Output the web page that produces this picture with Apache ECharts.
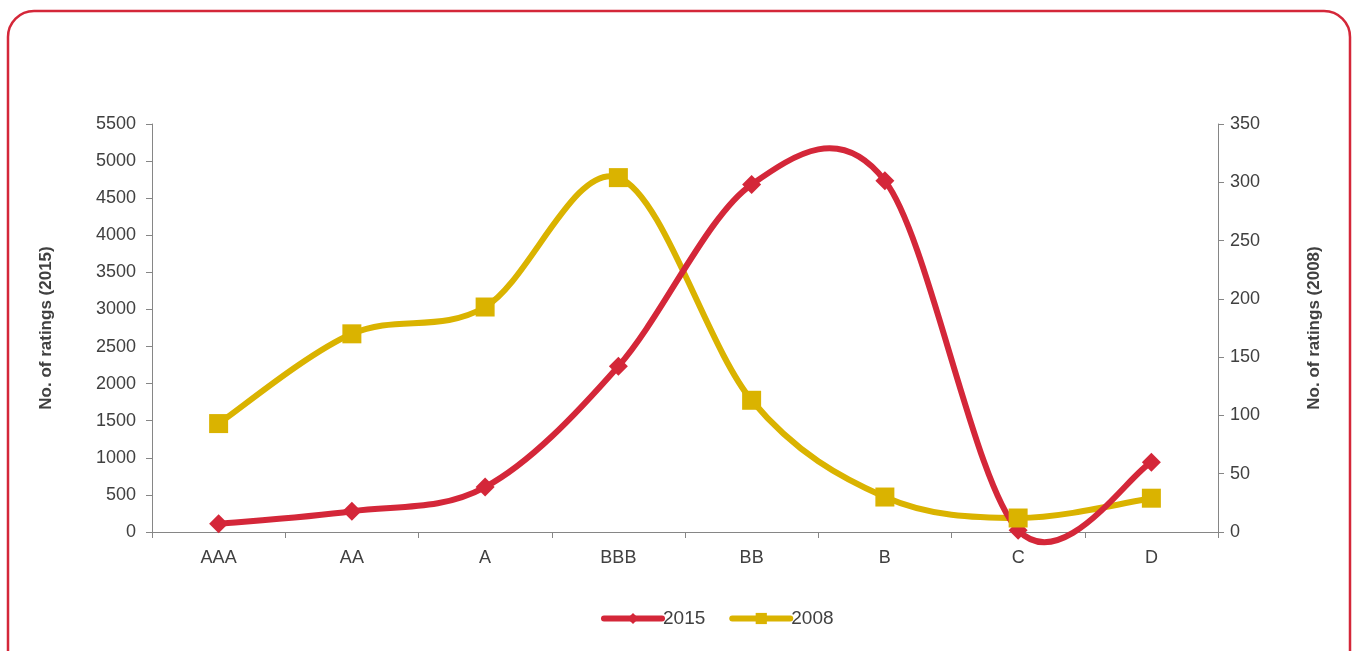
<!DOCTYPE html>
<html>
<head>
    <meta charset="utf-8">
    <title>ECharts</title>
    <script src="https://cdn.jsdelivr.net/npm/echarts@6/dist/echarts.min.js"></script>
    <style>
        html, body { margin: 0; padding: 0; background: #fff; }
    </style>
</head>
<body>
    <div id="main" style="width:1354px;height:651px;"></div>
    <script type="text/javascript">

var ratings = ['AAA', 'AA', 'A', 'BBB', 'BB', 'B', 'C', 'D'];
var count2015 = [110, 280, 605, 2235, 4685, 4735, 25, 940];
var count2008 = [93, 170, 193, 304, 113, 30, 12, 29];

var red = '#d42739';
var gold = '#dab300';
var axisGray = '#868686';
var textGray = '#404040';

var myChart = echarts.init(document.getElementById('main'));

// Excel-style smoothed line: one bezier per segment, control points from neighbours (1/6 rule)
function smoothSegments(values, color) {
    var n = values.length;
    return function (params, api) {
        var i = params.dataIndex;
        if (i >= n - 1) return;
        var pt = function (k) {
            k = Math.max(0, Math.min(n - 1, k));
            return api.coord([k, values[k]]);
        };
        var p0 = pt(i - 1), p1 = pt(i), p2 = pt(i + 1), p3 = pt(i + 2);
        return {
            type: 'bezierCurve',
            shape: {
                x1: p1[0], y1: p1[1],
                x2: p2[0], y2: p2[1],
                cpx1: p1[0] + (p2[0] - p0[0]) / 6,
                cpy1: p1[1] + (p2[1] - p0[1]) / 6,
                cpx2: p2[0] - (p3[0] - p1[0]) / 6,
                cpy2: p2[1] - (p3[1] - p1[1]) / 6
            },
            style: { stroke: color, lineWidth: 6, fill: null, lineCap: 'round' },
            silent: true
        };
    };
}

var numFmt = function (v) { return String(v); };

var option = {
    animation: false,
    textStyle: { fontFamily: 'Liberation Sans, Arial, sans-serif' },
    graphic: [{
        type: 'rect',
        shape: { x: 8, y: 11, width: 1342, height: 700, r: 26 },
        style: { fill: 'none', stroke: red, lineWidth: 2.5 },
        silent: true
    }],
    grid: { left: 152, right: 136, top: 124, bottom: 119 },
    legend: {
        bottom: 18,
        left: 596,
        itemWidth: 58,
        itemHeight: 14,
        itemGap: 24,
        textStyle: { fontSize: 19, color: textGray, padding: [0, 0, 0, -4] },
        data: [
            { name: '2015', lineStyle: { opacity: 1, width: 6, color: red, cap: 'round' } },
            { name: '2008', lineStyle: { opacity: 1, width: 6, color: gold, cap: 'round' } }
        ]
    },
    xAxis: {
        type: 'category',
        data: ratings,
        boundaryGap: true,
        axisLine: { lineStyle: { color: axisGray, width: 1 } },
        axisTick: { show: true, length: 6, inside: false, lineStyle: { color: axisGray } },
        axisLabel: { fontSize: 18, color: textGray, margin: 17 }
    },
    yAxis: [{
        type: 'value',
        min: 0, max: 5500, interval: 500,
        name: 'No. of ratings (2015)',
        nameLocation: 'middle',
        nameGap: 97,
        nameRotate: 90,
        nameTextStyle: { fontSize: 17, fontWeight: 'bold', color: textGray },
        axisLine: { show: true, lineStyle: { color: axisGray } },
        axisTick: { show: true, length: 6, lineStyle: { color: axisGray } },
        axisLabel: { fontSize: 18, color: textGray, margin: 16, formatter: numFmt },
        splitLine: { show: false }
    }, {
        type: 'value',
        min: 0, max: 350, interval: 50,
        name: 'No. of ratings (2008)',
        nameLocation: 'middle',
        nameGap: 88,
        nameRotate: 90,
        nameTextStyle: { fontSize: 17, fontWeight: 'bold', color: textGray },
        axisLine: { show: true, lineStyle: { color: axisGray } },
        axisTick: { show: true, length: 6, lineStyle: { color: axisGray } },
        axisLabel: { fontSize: 18, color: textGray, margin: 12, formatter: numFmt },
        splitLine: { show: false }
    }],
    series: [{
        type: 'custom',
        yAxisIndex: 1,
        data: count2008.map(function (v, i) { return [i, v]; }),
        renderItem: smoothSegments(count2008, gold),
        clip: false,
        z: 1
    }, {
        type: 'custom',
        yAxisIndex: 0,
        data: count2015.map(function (v, i) { return [i, v]; }),
        renderItem: smoothSegments(count2015, red),
        clip: false,
        z: 2
    }, {
        name: '2015',
        type: 'line',
        yAxisIndex: 0,
        data: count2015,
        symbol: 'diamond',
        symbolSize: 19,
        lineStyle: { width: 6, color: red, opacity: 0 },
        itemStyle: { color: red },
        z: 3
    }, {
        name: '2008',
        type: 'line',
        yAxisIndex: 1,
        data: count2008,
        symbol: 'rect',
        symbolSize: 19,
        lineStyle: { width: 6, color: gold, opacity: 0 },
        itemStyle: { color: gold },
        z: 4
    }]
};

myChart.setOption(option);

    </script>
</body>
</html>
